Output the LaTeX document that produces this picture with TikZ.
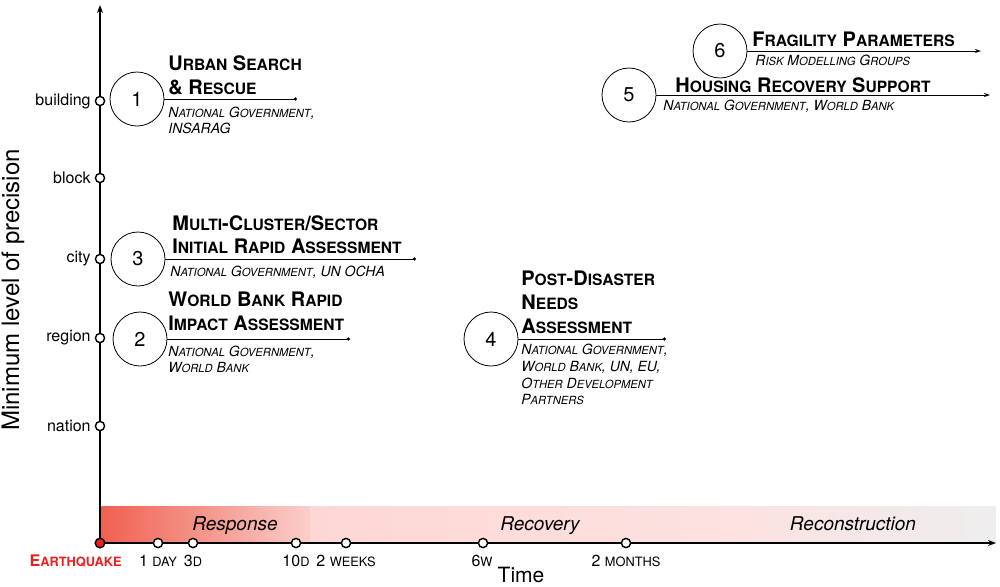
\documentclass[tikz,border=0pt]{standalone}
\usepackage{fontspec}
\setmainfont{TeX Gyre Heros}
\usetikzlibrary{arrows.meta}
\newcommand\TT[2]{#1{\fontsize{7.8}{9.6}\selectfont #2}}
\newcommand\ST[2]{#1{\fontsize{5.6}{7}\selectfont #2}}
\newcommand\XT[2]{#1{\fontsize{6.4}{8}\selectfont #2}}
\definecolor{quake}{RGB}{236,30,30}
\definecolor{bandA}{RGB}{239,96,80}
\definecolor{bandB}{RGB}{251,206,202}
\definecolor{bandC}{RGB}{253,215,212}
\definecolor{bandD}{RGB}{252,226,225}
\definecolor{bandE}{RGB}{238,238,238}
\begin{document}
\begin{tikzpicture}[x=0.5pt,y=-0.5pt,
  num/.style={circle, draw, line width=0.4pt, minimum size=27pt, inner sep=0pt, fill=white, font=\fontsize{10}{12}\selectfont},
  ttl/.style={anchor=base west, inner sep=0pt, font=\bfseries\fontsize{10}{12}\selectfont},
  sub/.style={anchor=base west, inner sep=0pt, font=\itshape\fontsize{7}{8}\selectfont},
  lvl/.style={anchor=east, inner sep=0pt, font=\fontsize{8}{10}\selectfont},
  tickc/.style={circle, draw, fill=white, line width=0.7pt, minimum size=4.6pt, inner sep=0pt},
  tlab/.style={anchor=base, inner sep=0pt, font=\fontsize{8}{10}\selectfont},
  phase/.style={anchor=base, inner sep=0pt, font=\itshape\fontsize{9.5}{11}\selectfont},
  axis/.style={line width=1pt, -{Stealth[length=4pt,width=3pt]}},
  task/.style={line width=0.5pt, -{Circle[length=1.6pt]}},
  taskarrow/.style={line width=0.5pt, -{Stealth[length=3pt,width=2pt]}}
]
\useasboundingbox (0,0) rectangle (1000,586);

% phase band
\shade[left color=bandA, right color=bandB] (100,506) rectangle (310,543);
\shade[left color=bandC, right color=bandD] (310,506) rectangle (740,543);
\shade[left color=bandD, right color=bandE] (740,506) rectangle (996,543);
\node[phase] (response) at (235,530) {Response};
\node[phase] (recovery) at (540,530) {Recovery};
\node[phase] (reconstr) at (853,530) {Reconstruction};

% axes
\coordinate (origin) at (100,543);
\coordinate (ytop) at (100,5);
\coordinate (xend) at (996,543);
\draw[axis] (origin) -- (ytop);
\draw[axis] (origin) -- (xend);

% y ticks
\node[tickc] (ybuilding) at (100,101) {};
\node[tickc] (yblock) at (100,178) {};
\node[tickc] (ycity) at (100,259) {};
\node[tickc] (yregion) at (100,338) {};
\node[tickc] (ynation) at (100,426) {};
\node[lvl] (lbuilding) at (91,101) {building};
\node[lvl] (lblock) at (91,178) {block};
\node[lvl] (lcity) at (91,259) {city};
\node[lvl] (lregion) at (91,338) {region};
\node[lvl] (lnation) at (91,426) {nation};
\node[rotate=90, inner sep=0pt, font=\fontsize{12}{14}\selectfont] (ylabel) at (13,290) {Minimum level of precision};

% x ticks
\node[circle, draw=black, fill=quake, line width=0.7pt, minimum size=4.8pt, inner sep=0pt] (xquake) at (100,543) {};
\node[tickc] (xday) at (158,543) {};
\node[tickc] (x3d) at (193,543) {};
\node[tickc] (x10d) at (296,543) {};
\node[tickc] (x2w) at (346,543) {};
\node[tickc] (x6w) at (483,543) {};
\node[tickc] (x2m) at (626,543) {};
\node[anchor=base east, inner sep=0pt, text=quake, font=\bfseries\fontsize{8}{10}\selectfont] (lquake) at (122,566) {\XT{E}{ARTHQUAKE}};
\node[tlab] (lday) at (158,566) {1 \XT{}{DAY}};
\node[tlab] (l3d) at (193,566) {3\XT{}{D}};
\node[tlab] (l10d) at (296,566) {10\XT{}{D}};
\node[tlab] (l2w) at (346,566) {2 \XT{}{WEEKS}};
\node[tlab] (l6w) at (482,566) {6\XT{}{W}};
\node[tlab] (l2m) at (626,566) {2 \XT{}{MONTHS}};
\node[inner sep=0pt, font=\fontsize{10.5}{12}\selectfont] (time) at (521,575) {Time};

% task 1
\node[num] (c1) at (137,99) {1};
\coordinate (e1) at (297,99);
\draw[task] (c1.east) -- (e1);
\node[ttl] (t1a) at (168,70) {\TT{U}{RBAN} \TT{S}{EARCH}};
\node[ttl] (t1b) at (168,94) {\TT{\&}{} \TT{R}{ESCUE}};
\node[sub] (s1a) at (168,117) {\ST{N}{ATIONAL} \ST{G}{OVERNMENT},};
\node[sub] (s1b) at (168,133) {INSARAG};

% task 3
\node[num] (c3) at (138,259) {3};
\coordinate (e3) at (416,259);
\draw[task] (c3.east) -- (e3);
\node[ttl] (t3a) at (172,230) {\TT{M}{ULTI}-\TT{C}{LUSTER}/\TT{S}{ECTOR}};
\node[ttl] (t3b) at (172,253) {\TT{I}{NITIAL} \TT{R}{APID} \TT{A}{SSESSMENT}};
\node[sub] (s3a) at (170,276) {\ST{N}{ATIONAL} \ST{G}{OVERNMENT}, UN OCHA};

% task 2
\node[num] (c2) at (140,339) {2};
\coordinate (e2) at (350,339);
\draw[task] (c2.east) -- (e2);
\node[ttl] (t2a) at (168,306) {\TT{W}{ORLD} \TT{B}{ANK} \TT{R}{APID}};
\node[ttl] (t2b) at (168,330) {\TT{I}{MPACT} \TT{A}{SSESSMENT}};
\node[sub] (s2a) at (168,356) {\ST{N}{ATIONAL} \ST{G}{OVERNMENT},};
\node[sub] (s2b) at (168,372) {\ST{W}{ORLD} \ST{B}{ANK}};

% task 4
\node[num] (c4) at (491,339) {4};
\coordinate (e4) at (666,339);
\draw[task] (c4.east) -- (e4);
\node[ttl] (t4a) at (521,285) {\TT{P}{OST}-\TT{D}{ISASTER}};
\node[ttl] (t4b) at (521,309) {\TT{N}{EEDS}};
\node[ttl] (t4c) at (521,333) {\TT{A}{SSESSMENT}};
\node[sub] (s4a) at (521,354) {\ST{N}{ATIONAL} \ST{G}{OVERNMENT},};
\node[sub] (s4b) at (521,371) {\ST{W}{ORLD} \ST{B}{ANK}, UN, EU,};
\node[sub] (s4c) at (521,388) {\ST{O}{THER} \ST{D}{EVELOPMENT}};
\node[sub] (s4d) at (521,404) {\ST{P}{ARTNERS}};

% task 5
\node[num] (c5) at (629,95) {5};
\coordinate (e5) at (990,95);
\draw[taskarrow] (c5.east) -- (e5);
\node[ttl] (t5) at (675,92) {\TT{H}{OUSING} \TT{R}{ECOVERY} \TT{S}{UPPORT}};
\node[sub] (s5) at (663,110) {\ST{N}{ATIONAL} \ST{G}{OVERNMENT}, \ST{W}{ORLD} \ST{B}{ANK}};

% task 6
\node[num] (c6) at (720,51) {6};
\coordinate (e6) at (981,51);
\draw[taskarrow] (c6.east) -- (e6);
\node[ttl] (t6) at (752,46) {\TT{F}{RAGILITY} \TT{P}{ARAMETERS}};
\node[sub] (s6) at (755,65) {\ST{R}{ISK} \ST{M}{ODELLING} \ST{G}{ROUPS}};
\end{tikzpicture}
\end{document}
